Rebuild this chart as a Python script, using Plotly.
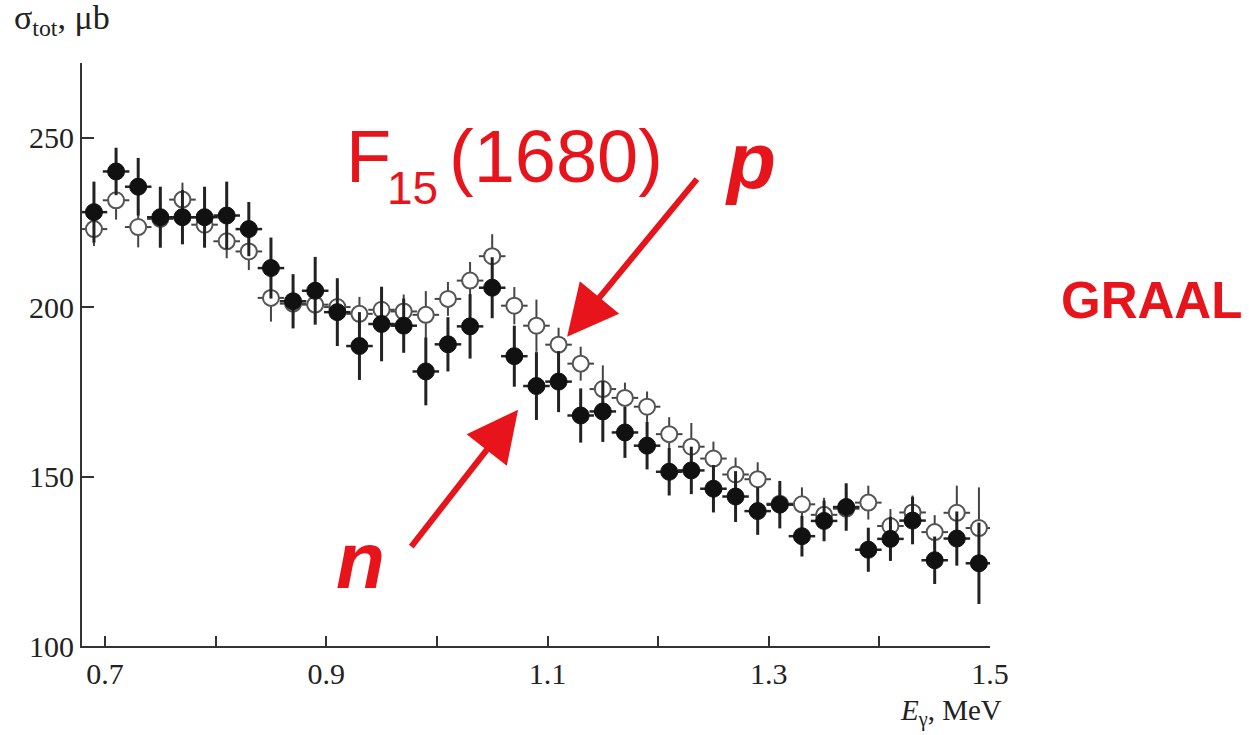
import plotly.graph_objects as go

# ---- data ----
energy = [0.69, 0.71, 0.73, 0.75, 0.77, 0.79, 0.81, 0.83, 0.85, 0.87,
          0.89, 0.91, 0.93, 0.95, 0.97, 0.99, 1.01, 1.03, 1.05, 1.07,
          1.09, 1.11, 1.13, 1.15, 1.17, 1.19, 1.21, 1.23, 1.25, 1.27,
          1.29, 1.31, 1.33, 1.35, 1.37, 1.39, 1.41, 1.43, 1.45, 1.47, 1.49]

sigma_n = [228, 240, 235.5, 226.5, 226.5, 226.5, 227, 223, 211.5, 201.7,
           204.8, 198.5, 188.5, 195, 194.5, 181, 189, 194.3, 205.7, 185.5,
           176.7, 178, 168, 169.2, 163, 159.1, 151.4, 151.8, 146.4, 144.1,
           139.8, 141.7, 132.4, 136.9, 141, 128.4, 131.6, 137, 125.3, 131.7, 124.4]
err_n = [9, 7, 8.5, 9, 8, 9, 10, 8, 9, 8,
         10, 10, 10, 11, 8, 10, 8, 9.5, 9, 9,
         10, 9, 8, 9, 7.5, 7, 7, 7, 7, 7.5,
         7, 7, 6, 6, 7, 6.5, 6.5, 7, 7, 8, 12]

sigma_p = [223, 231.5, 223.6, 226, 231.7, 224.3, 219.4, 216.4, 202.7, 201,
           200.7, 200, 198, 199.2, 198.7, 197.7, 202.4, 207.8, 215, 200.4,
           194.5, 188.9, 183.3, 175.8, 173.2, 170.6, 162.5, 158.8, 155.3, 150.6,
           149.2, 142, 141.8, 138.7, 140.5, 142.3, 135.4, 139.4, 133.6, 139.3, 134.8]
err_p = [5, 5.7, 6, 5, 5, 5, 5, 5.5, 7, 5,
         5, 5, 5, 5, 5, 7, 5, 5.5, 6.5, 5.5,
         7.7, 5, 5, 7, 4.5, 4.5, 5, 7, 5, 5,
         5, 5, 5, 5, 5, 5, 5, 5, 5, 8, 12]

bin_half = 0.012

x_tickvals = [0.7, 0.9, 1.1, 1.3, 1.5]
x_ticktext = ["0.7", "0.9", "1.1", "1.3", "1.5"]
y_tickvals = [100, 150, 200, 250]
y_ticktext = ["100", "150", "200", "250"]

RED = "#e8141c"
SERIF = "Liberation Serif, Times New Roman, serif"
SANS = "Liberation Sans, Arial, sans-serif"


def px(xp):
    return (xp - 82) / 908


def py(yp):
    return (646 - yp) / 583


fig = go.Figure()

# proton (open circles)
fig.add_trace(go.Scatter(
    x=energy, y=sigma_p, mode="markers", name="p",
    marker=dict(symbol="circle", size=16, color="white",
                line=dict(color="#555555", width=2)),
    error_y=dict(type="data", array=err_p, color="#444444", thickness=2, width=0),
    error_x=dict(type="constant", value=bin_half, color="#444444", thickness=2, width=0),
    cliponaxis=False,
))

# neutron (filled circles)
fig.add_trace(go.Scatter(
    x=energy, y=sigma_n, mode="markers", name="n",
    marker=dict(symbol="circle", size=17, color="#111111",
                line=dict(color="#111111", width=1)),
    error_y=dict(type="data", array=err_n, color="#222222", thickness=3, width=0),
    error_x=dict(type="constant", value=bin_half, color="#222222", thickness=2.5, width=0),
    cliponaxis=False,
))

annotations = [
    # axis titles
    dict(text="σ<sub>tot</sub>, μb", xref="paper", yref="paper",
         x=px(12), y=py(20), xanchor="left", yanchor="middle", showarrow=False,
         font=dict(family=SERIF, size=34, color="#222222")),
    dict(text="<i>E</i><sub>γ</sub>, MeV", xref="paper", yref="paper",
         x=px(1004), y=py(712), xanchor="right", yanchor="middle", showarrow=False,
         font=dict(family=SERIF, size=29, color="#222222")),
    # F15(1680) label, built from three parts
    dict(text="F", xref="paper", yref="paper",
         x=px(344), y=py(156), xanchor="left", yanchor="middle",
         showarrow=False, font=dict(family=SANS, size=74, color=RED)),
    dict(text="15", xref="paper", yref="paper",
         x=px(385), y=py(188), xanchor="left", yanchor="middle",
         showarrow=False, font=dict(family=SANS, size=46, color=RED)),
    dict(text="(1680)", xref="paper", yref="paper",
         x=px(447), y=py(156), xanchor="left", yanchor="middle",
         showarrow=False, font=dict(family=SANS, size=74, color=RED)),
    dict(text="<b><i>p</i></b>", xref="paper", yref="paper",
         x=px(750), y=py(160), xanchor="center", yanchor="middle",
         showarrow=False, font=dict(family=SANS, size=80, color=RED)),
    dict(text="<b><i>n</i></b>", xref="paper", yref="paper",
         x=px(360), y=py(560), xanchor="center", yanchor="middle",
         showarrow=False, font=dict(family=SANS, size=80, color=RED)),
    dict(text="<b>GRAAL</b>", xref="paper", yref="paper",
         x=px(1151), y=py(300), xanchor="center", yanchor="middle",
         showarrow=False, font=dict(family=SANS, size=51, color=RED)),
    # arrows
    dict(text="", x=1.1177, y=191.2, xref="x", yref="y",
         ax=1.2362, ay=238.2, axref="x", ayref="y",
         showarrow=True, arrowhead=2, arrowsize=1.7, arrowwidth=6, arrowcolor=RED),
    dict(text="", x=1.0734, y=169.7, xref="x", yref="y",
         ax=0.9758, ay=128.9, axref="x", ayref="y",
         showarrow=True, arrowhead=2, arrowsize=1.7, arrowwidth=6, arrowcolor=RED),
]

fig.update_layout(
    width=1249, height=735,
    margin=dict(l=82, r=259, t=63, b=89, pad=0),
    paper_bgcolor="white", plot_bgcolor="white",
    showlegend=False,
    annotations=annotations,
    xaxis=dict(range=[0.6792, 1.5], showgrid=False, zeroline=False,
               showline=True, linecolor="#333333", linewidth=2,
               ticks="inside", ticklen=10, tickwidth=2, tickcolor="#333333",
               tickvals=x_tickvals, ticktext=x_ticktext,
               minor=dict(tickvals=[0.8, 1.0, 1.2, 1.4], ticks="inside",
                          ticklen=10, tickwidth=2, tickcolor="#333333", showgrid=False),
               tickfont=dict(family=SERIF, size=30, color="#222222")),
    yaxis=dict(range=[100, 272], showgrid=False, zeroline=False,
               showline=True, linecolor="#333333", linewidth=2,
               ticks="inside", ticklen=12, tickwidth=2, tickcolor="#333333",
               tickvals=y_tickvals, ticktext=y_ticktext,
               tickfont=dict(family=SERIF, size=30, color="#222222")),
)

fig.write_html("out.html")
